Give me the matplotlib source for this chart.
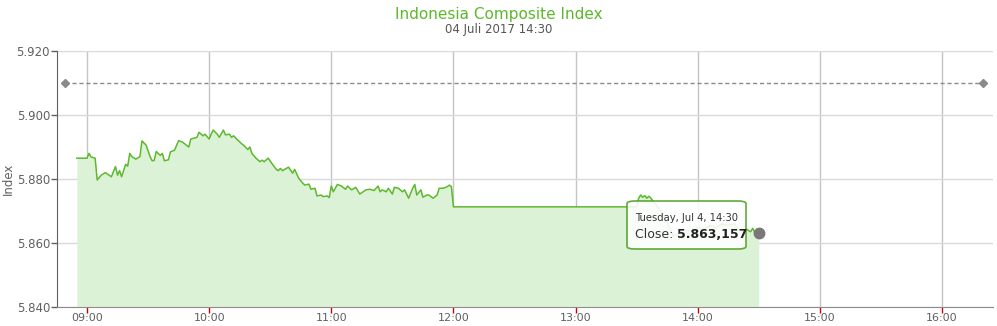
import matplotlib.pyplot as plt
from matplotlib.patches import FancyBboxPatch
from matplotlib.ticker import FuncFormatter

# Intraday Composite Index values
times = ["08:55", "09:00", "09:01", "09:02", "09:04", "09:05", "09:07", "09:09", "09:12", "09:14",
         "09:15", "09:16", "09:17", "09:19", "09:20", "09:21", "09:22", "09:24", "09:26", "09:27",
         "09:29", "09:31", "09:32", "09:33", "09:34", "09:36", "09:37", "09:38", "09:40", "09:41",
         "09:43", "09:45", "09:47", "09:50", "09:51", "09:54", "09:55", "09:57", "09:58", "10:00",
         "10:01", "10:02", "10:04", "10:05", "10:07", "10:08", "10:10", "10:11", "10:12", "10:14",
         "10:16", "10:17", "10:19", "10:20", "10:21", "10:23", "10:25", "10:26", "10:27", "10:29",
         "10:31", "10:33", "10:34", "10:35", "10:36", "10:39", "10:41", "10:42", "10:44", "10:46",
         "10:47", "10:49", "10:50", "10:52", "10:53", "10:55", "10:56", "10:58", "10:59", "11:00",
         "11:01", "11:03", "11:05", "11:07", "11:08", "11:10", "11:12", "11:14", "11:17", "11:19",
         "11:21", "11:23", "11:24", "11:25", "11:27", "11:28", "11:30", "11:31", "11:33", "11:35",
         "11:36", "11:38", "11:40", "11:41", "11:42", "11:44", "11:45", "11:47", "11:48", "11:50",
         "11:52", "11:53", "11:55", "11:57", "11:58", "11:59", "12:00", "13:30", "13:31", "13:32",
         "13:33", "13:34", "13:35", "13:36", "13:37", "13:39", "13:40", "13:42", "13:43", "13:45",
         "13:46", "13:48", "13:50", "13:52", "13:55", "13:58", "14:00", "14:03", "14:06", "14:09",
         "14:12", "14:15", "14:18", "14:20", "14:22", "14:24", "14:26", "14:27", "14:28", "14:30"]
close = [5886.5, 5886.5, 5888.0, 5886.9, 5886.5, 5879.7, 5881.2, 5882.0, 5880.7, 5883.9,
         5881.2, 5882.6, 5880.7, 5884.6, 5884.0, 5888.0, 5887.0, 5886.2, 5887.0, 5891.9,
         5890.6, 5887.0, 5885.7, 5885.8, 5888.6, 5887.4, 5888.0, 5885.7, 5886.0, 5888.5,
         5889.0, 5892.0, 5891.5, 5890.0, 5892.5, 5893.0, 5894.6, 5893.5, 5894.0, 5892.5,
         5894.0, 5895.3, 5894.0, 5893.0, 5895.3, 5893.8, 5894.0, 5893.0, 5893.5, 5892.2,
         5891.0, 5890.5, 5889.2, 5890.0, 5888.0, 5886.5, 5885.4, 5885.9, 5885.4, 5886.5,
         5884.7, 5883.0, 5882.6, 5883.3, 5882.6, 5883.7, 5881.8, 5883.0, 5880.2, 5878.7,
         5878.1, 5878.4, 5876.8, 5877.1, 5874.7, 5875.0, 5874.5, 5874.7, 5874.2, 5877.8,
         5876.0, 5878.3, 5877.8, 5876.8, 5877.8, 5876.6, 5877.4, 5875.3, 5876.6, 5876.8,
         5876.4, 5877.8, 5876.0, 5876.6, 5876.0, 5877.1, 5875.3, 5877.4, 5877.1, 5876.0,
         5876.6, 5874.0, 5877.1, 5878.3, 5875.0, 5876.6, 5874.3, 5875.0, 5875.0, 5874.0,
         5875.0, 5877.1, 5877.1, 5877.6, 5878.1, 5877.6, 5871.3, 5871.3, 5874.0, 5875.0,
         5874.3, 5874.8, 5874.0, 5874.6, 5874.0, 5872.4, 5871.5, 5870.0, 5869.0, 5866.5,
         5865.0, 5862.0, 5862.8, 5862.5, 5864.0, 5863.5, 5865.0, 5864.2, 5865.5, 5864.8,
         5866.0, 5865.5, 5866.0, 5864.0, 5863.8, 5864.3, 5863.5, 5864.6, 5863.4, 5863.157]

# previous close reference line
prev_close = 5910
prev_close_times = ["08:49", "16:20"]

hour_ticks = [9, 10, 11, 12, 13, 14, 15, 16]
y_ticks = [5840, 5860, 5880, 5900, 5920]


def to_hours(s):
    h, m = s.split(":")
    return int(h) + int(m) / 60


def thousands(v, pos=None):
    return f"{v:,.0f}".replace(",", ".")


x = [to_hours(t) for t in times]

fig = plt.figure(figsize=(9.97, 3.26), dpi=100)
ax = fig.add_axes([57 / 997, 19 / 326, 936 / 997, 256 / 326])

ax.fill_between(x, close, 5800, color="#dcf2d6", linewidth=0, zorder=2)
ax.plot(x, close, color="#5db82e", linewidth=1.1, zorder=3)
ax.plot([to_hours(t) for t in prev_close_times], [prev_close] * 2, color="#8a8a8a",
        linestyle=(0, (3, 2)), linewidth=1, marker="D", markersize=4.5, zorder=3,
        clip_on=False)
ax.plot(x[-1], close[-1], "o", color="#787878", markersize=7.5, zorder=5)

ax.set_xlim(9 - 30 / 122.14, 16 + 51 / 122.14)
ax.set_ylim(5840, 5920)
ax.set_xticks(hour_ticks)
ax.set_xticklabels([f"{h:02d}:00" for h in hour_ticks])
ax.set_yticks(y_ticks)
ax.yaxis.set_major_formatter(FuncFormatter(thousands))

ax.grid(axis="x", color="#c4c4c4", linewidth=1, zorder=1)
ax.grid(axis="y", color="#dadada", linewidth=1, zorder=1)
ax.set_axisbelow(True)
for s in ["top", "right"]:
    ax.spines[s].set_visible(False)
ax.spines["left"].set_color("#606060")
ax.spines["bottom"].set_color("#8c8c8c")
ax.tick_params(axis="x", colors="#cc0000", length=4, width=1, labelcolor="#606060",
               labelsize=8, pad=0.5)
ax.tick_params(axis="y", colors="#606060", length=4, width=1, labelcolor="#606060",
               labelsize=8.5, pad=1)
ax.set_ylabel("Index", color="#606060", fontsize=8.5)
ax.yaxis.set_label_coords(-42 / 936, 0.5)

fig.text(0.5, 1 - 15 / 326, "Indonesia Composite Index", ha="center", va="center",
         color="#5cb82a", fontsize=11)
fig.text(0.5, 1 - 30 / 326, "04 Juli 2017 14:30", ha="center", va="center",
         color="#555555", fontsize=8.5)

# tooltip, drawn inside the axes so its texts sit above the box
box = FancyBboxPatch((627 / 997, 1 - 249 / 326), 119 / 997, 48 / 326,
                     boxstyle="round,pad=0,rounding_size=0.008", transform=fig.transFigure,
                     facecolor="white", alpha=0.88, edgecolor="#4a9f20", linewidth=1.2,
                     zorder=10, clip_on=False)
ax.add_patch(box)
ax.text(635 / 997, 1 - 218 / 326, "Tuesday, Jul 4, 14:30", ha="left", va="center",
        color="#333333", fontsize=7.2, zorder=11, transform=fig.transFigure)
lab = ax.text(635 / 997, 1 - 234 / 326, "Close: ", ha="left", va="center",
              color="#333333", fontsize=9, zorder=11, transform=fig.transFigure)
ax.annotate("5.863,157", xy=(1, 0.5), xycoords=lab, ha="left", va="center",
            color="#222222", fontsize=9, fontweight="bold", zorder=12,
            annotation_clip=False)

fig.savefig("out.png", dpi=100)
